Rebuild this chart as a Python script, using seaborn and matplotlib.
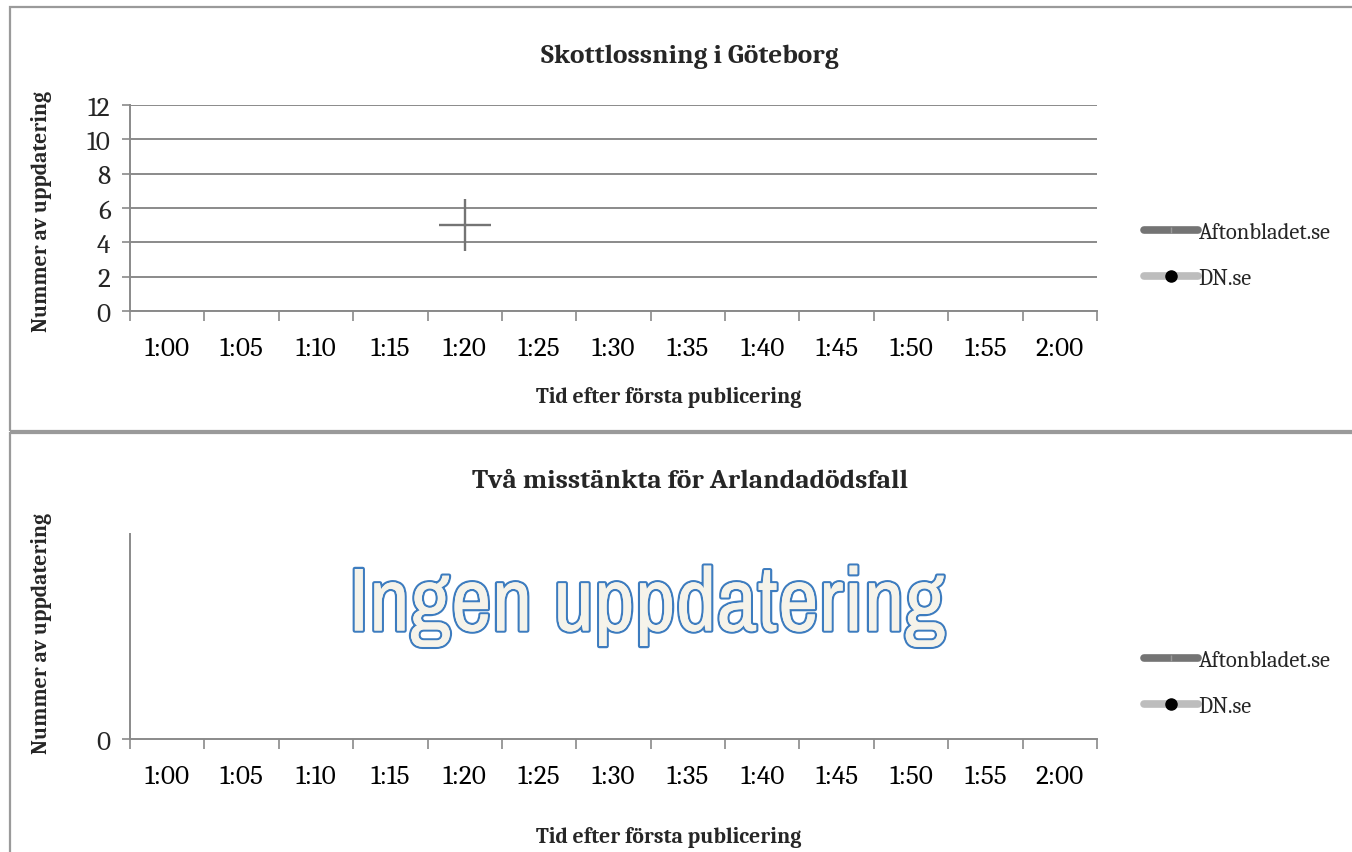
import numpy as np
import pandas as pd
import seaborn as sns
import matplotlib
matplotlib.use("Agg")
import matplotlib.pyplot as plt
from matplotlib.lines import Line2D
from matplotlib.patches import Rectangle
import matplotlib.patheffects as pe
from matplotlib import font_manager as fm

# ---- data ----
categories = ["1:00", "1:05", "1:10", "1:15", "1:20", "1:25", "1:30",
              "1:35", "1:40", "1:45", "1:50", "1:55", "2:00"]
aftonbladet_1 = [np.nan, np.nan, np.nan, np.nan, 5, np.nan, np.nan,
                 np.nan, np.nan, np.nan, np.nan, np.nan, np.nan]
dn_1 = [np.nan] * 13
aftonbladet_2 = [np.nan] * 13
dn_2 = [np.nan] * 13
series_names = ["Aftonbladet.se", "DN.se"]
titles = ["Skottlossning i Göteborg", "Två misstänkta för Arlandadödsfall"]
xlabel = "Tid efter första publicering"
ylabel = "Nummer av uppdatering"
yticks_top = [0, 2, 4, 6, 8, 10, 12]
no_update_text = "Ingen uppdatering"

available = {f.name for f in fm.fontManager.ttflist}

def pick(cands, fallback):
    for c in cands:
        if c in available:
            return c
    return fallback

SERIF = pick(["Caladea", "Liberation Serif"], "DejaVu Serif")
NARROW = pick(["Liberation Sans Narrow", "Arial Narrow", "Archivo Narrow",
               "PT Sans Narrow", "Roboto Condensed", "Encode Sans Condensed",
               "Fira Sans Condensed", "IBM Plex Sans Condensed",
               "Open Sans Condensed", "Pragati Narrow"], "Liberation Sans")

sns.set_theme(style="white")
plt.rcParams['font.family'] = [SERIF, 'DejaVu Serif']

W, H = 1352, 853
fig = plt.figure(figsize=(W / 100, H / 100), dpi=100)

def fx(px):
    return px / W

def fy(py):
    return 1 - py / H

# panel frames
for (y0, y1) in [(8, 432), (434, 860)]:
    fig.patches.append(Rectangle((fx(10), fy(y1)), fx(1360) - fx(10), fy(y0) - fy(y1),
                                 transform=fig.transFigure, fill=False,
                                 edgecolor="#9a9a9a", linewidth=1.6, zorder=0))

GRID = "#8a8a8a"
AF_COLOR = "#747474"
DN_COLOR = "#bdbdbd"
TICK_FS = 19.5
LEG_FS = 16.3

def setup_axis(ax, df, show_grid, yticks, ylim):
    x = np.arange(len(categories))
    sns.scatterplot(data=df, x="x", y="Aftonbladet.se", ax=ax, marker="+", s=1350,
                    color=AF_COLOR, linewidth=1.7, legend=False, zorder=5)
    sns.scatterplot(data=df, x="x", y="DN.se", ax=ax, marker="o", s=60,
                    color="black", legend=False, zorder=5)
    ax.set_xlim(-0.5, len(categories) - 0.5)
    ax.set_ylim(*ylim)
    ax.set_xticks(np.arange(len(categories) + 1) - 0.5)
    ax.set_xticklabels([])
    ax.set_xticks(x, minor=True)
    ax.set_xticklabels(categories, minor=True, fontsize=TICK_FS)
    ax.tick_params(axis="x", which="major", length=7, width=1.2, color=GRID,
                   direction="out", bottom=True)
    ax.tick_params(axis="x", which="minor", length=0, pad=18, colors="black")
    ax.set_yticks(yticks)
    ax.set_yticklabels([str(v) for v in yticks], fontsize=TICK_FS)
    ax.tick_params(axis="y", length=6, width=1.2, color=GRID, direction="out",
                   left=True, pad=8)
    for s in ["top", "right"]:
        ax.spines[s].set_visible(False)
    for s in ["left", "bottom"]:
        ax.spines[s].set_color(GRID)
        ax.spines[s].set_linewidth(1.4)
    if show_grid:
        ax.yaxis.grid(True, color=GRID, linewidth=1.4)
        ax.set_axisbelow(True)
    ax.set_xlabel("")
    ax.set_ylabel("")
    ax.set_facecolor("none")
    handles = [
        Line2D([], [], color=AF_COLOR, lw=5.5, solid_capstyle="round",
               marker="|", markersize=5, markeredgecolor="#999999", markeredgewidth=1),
        Line2D([], [], color=DN_COLOR, lw=5.5, solid_capstyle="round",
               marker="o", markersize=8, markerfacecolor="black", markeredgecolor="black"),
    ]
    ax.legend(handles, series_names, loc="center left",
              bbox_to_anchor=(1.028, 0.27), frameon=False, fontsize=LEG_FS,
              handlelength=2.35, handletextpad=0.05, labelspacing=1.1)

x = np.arange(len(categories))
df1 = pd.DataFrame({"x": x, "Aftonbladet.se": aftonbladet_1, "DN.se": dn_1})
df2 = pd.DataFrame({"x": x, "Aftonbladet.se": aftonbladet_2, "DN.se": dn_2})

ax1 = fig.add_axes([fx(130), fy(312), fx(1097) - fx(130), fy(106) - fy(312)])
setup_axis(ax1, df1, True, yticks_top, (0, 12))

ax2 = fig.add_axes([fx(130), fy(740), fx(1097) - fx(130), fy(535) - fy(740)])
setup_axis(ax2, df2, False, [0], (0, 1))

# titles / labels
for ty, t in [(57, titles[0]), (482, titles[1])]:
    fig.text(fx(690), fy(ty), t, ha="center", va="center", fontsize=19.7, fontweight="bold")
for ty in [398, 838]:
    fig.text(fx(669), fy(ty), xlabel, ha="center", va="center", fontsize=15.7, fontweight="bold")
for ty in [212, 634]:
    fig.text(fx(42), fy(ty), ylabel, ha="center", va="center", rotation=90,
             fontsize=15.6, fontweight="bold")

# big "no update" text, sized to fit the reference width
big = fig.text(fx(647), fy(607), no_update_text, ha="center", va="center",
               fontsize=60, family=[NARROW, "Liberation Sans", "DejaVu Sans"],
               color="#f5f3ea",
               path_effects=[pe.SimpleLineShadow(offset=(2, -2), shadow_color="#bbbbbb", alpha=0.5),
                             pe.withStroke(linewidth=3.2, foreground="#3d7cbf"),
                             pe.Normal()])
r = fig.canvas.get_renderer()
wpx = big.get_window_extent(r).width
big.set_fontsize(60 * 597 / wpx)

fig.savefig("out.png", dpi=100)
